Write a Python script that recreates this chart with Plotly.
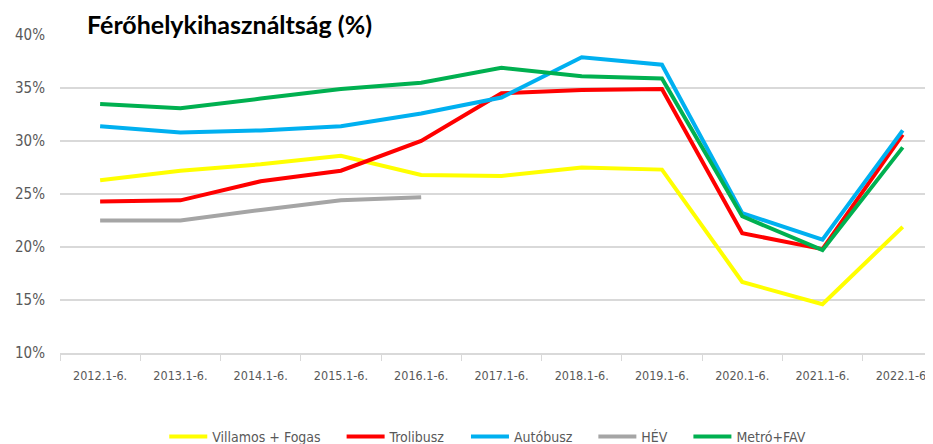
import plotly.graph_objects as go

categories = ["2012.1-6.", "2013.1-6.", "2014.1-6.", "2015.1-6.", "2016.1-6.", "2017.1-6.",
              "2018.1-6.", "2019.1-6.", "2020.1-6.", "2021.1-6.", "2022.1-6."]
villamos = [26.3, 27.2, 27.8, 28.6, 26.8, 26.7, 27.5, 27.3, 16.7, 14.6, 21.9]
trolibusz = [24.3, 24.4, 26.2, 27.2, 30.0, 34.5, 34.8, 34.9, 21.3, 19.8, 30.6]
autobusz = [31.4, 30.8, 31.0, 31.4, 32.6, 34.1, 37.9, 37.2, 23.2, 20.7, 31.0]
hev = [22.5, 22.5, 23.5, 24.4, 24.7, None, None, None, None, None, None]
metro = [33.5, 33.1, 34.0, 34.9, 35.5, 36.9, 36.1, 35.9, 22.9, 19.7, 29.4]
yticks = [10, 15, 20, 25, 30, 35, 40]

series = [
    ("Villamos + Fogas", villamos, "#FFFF00"),
    ("Trolibusz", trolibusz, "#FF0000"),
    ("Autóbusz", autobusz, "#00B0F0"),
    ("HÉV", hev, "#A5A5A5"),
    ("Metró+FAV", metro, "#00B050"),
]

PAD = "\u00a0" * 4
fig = go.Figure()
for i, (name, vals, color) in enumerate(series):
    label = name + (PAD if i < len(series) - 1 else "")
    fig.add_trace(go.Scatter(x=categories, y=vals, name=label, mode="lines",
                             line=dict(color=color, width=4), connectgaps=False))

font_narrow = "DejaVu Sans Condensed, Liberation Sans Narrow, sans-serif"

W, H = 925, 436
fig.update_layout(
    width=W, height=H,
    margin=dict(l=51.5, r=0, t=27, b=91, autoexpand=False),
    plot_bgcolor="white", paper_bgcolor="white",
    font=dict(family=font_narrow, size=14, color="#595959"),
    title=dict(text="<b>Férőhelykihasználtság (%)</b>", x=79/W, xanchor="left",
               y=1 - 17/H, yanchor="middle",
               font=dict(family="Lato, Open Sans, sans-serif", size=25, color="black")),
    legend=dict(orientation="h", x=0.49, xanchor="center", y=-0.264, yanchor="middle",
                font=dict(family=font_narrow, size=14, color="#595959"),
                itemwidth=38, tracegroupgap=0),
    showlegend=True,
)
fig.update_xaxes(
    type="category", range=[-0.5, 10.377], showgrid=False,
    showline=True, linecolor="#D9D9D9", linewidth=1.5,
    ticks="outside", tickson="boundaries", ticklen=6, tickcolor="#D9D9D9",
    tickfont=dict(family=font_narrow, size=12.5, color="#595959"), tickangle=0,
    ticklabelstandoff=10, automargin=False,
)
fig.update_yaxes(
    range=[10, 40], tickvals=yticks, ticktext=[f"{v}%" for v in yticks],
    showgrid=True, gridcolor="#D9D9D9", gridwidth=1.5, zeroline=False,
    showline=False, ticks="", ticklabelstandoff=14, automargin=False,
    tickfont=dict(family=font_narrow, size=15, color="#595959"),
)

fig.write_html("out.html")
